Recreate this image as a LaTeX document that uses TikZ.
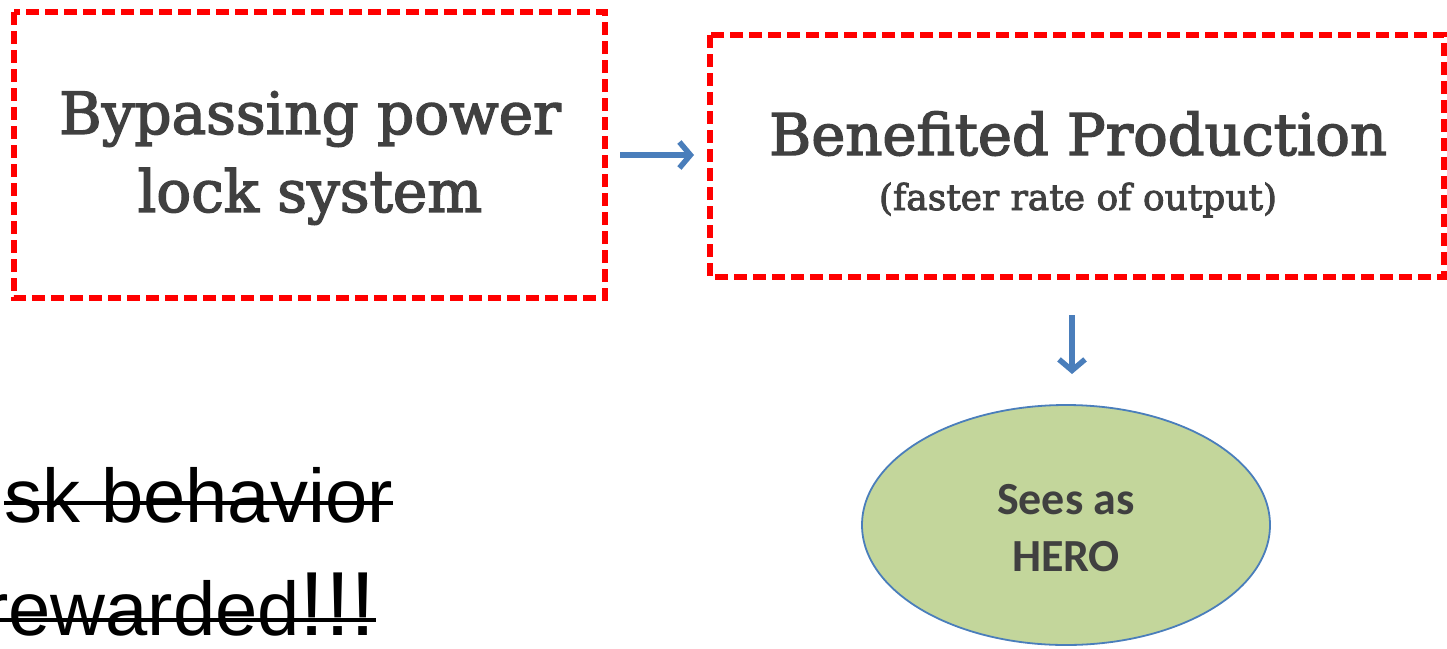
\documentclass[tikz,border=0pt]{standalone}
\usepackage{fontspec}
\setmainfont{DejaVu Serif}
\newfontfamily\slab[FakeBold=2.5]{DejaVu Serif}
\newfontfamily\heros{Liberation Sans}
\newfontfamily\carl{Carlito}
\usetikzlibrary{arrows.meta,shapes.geometric}
\definecolor{boxred}{HTML}{FF0000}
\definecolor{txtgray}{HTML}{404040}
\definecolor{arrblue}{HTML}{4A7EBB}
\definecolor{ellfill}{HTML}{C3D69B}
\tikzset{
  redbox/.style={draw=boxred, line width=5.5pt, dash pattern=on 13pt off 6pt},
  bigtxt/.style={text=txtgray, align=center, font=\slab\fontsize{58}{78}\selectfont},
  conn/.style={draw=arrblue, line width=5.5pt, -{Straight Barb[length=11pt,width=26pt,line width=5.5pt]}},
  striketxt/.style={font=\heros\fontsize{76}{76}\selectfont, text=black, inner sep=0pt},
  strike/.style={draw=black, line width=4pt}
}
\begin{document}
\begin{tikzpicture}[x=1pt,y=-1pt]
\useasboundingbox (0,0) rectangle (1447,648);
% boxes
\draw[redbox] (14,12) rectangle (605,298);
\draw[redbox] (710,35) rectangle (1444,277);
\node[bigtxt, anchor=center] (bp) at (310,158) {Bypassing power\\lock system};
\node[text=txtgray, align=center, anchor=base, font=\slab\fontsize{57.5}{60}\selectfont] (ben) at (1078,155) {Benefited Production};
\node[text=txtgray, anchor=base, font=\slab\fontsize{36}{40}\selectfont] (fast) at (1078,210) {(faster rate of output)};
\coordinate (a1s) at (620,155);
\coordinate (a1e) at (694,155);
\draw[conn] (a1s) -- (a1e);
\coordinate (a2s) at (1072,315);
\coordinate (a2e) at (1072,374);
\draw[conn] (a2s) -- (a2e);
\node[ellipse, draw=arrblue, line width=1.8pt, fill=ellfill, minimum width=408pt, minimum height=240pt] (hero) at (1066,525) {};
\node[text=txtgray, align=center, font=\carl\bfseries\fontsize{46}{57}\selectfont] (herot) at (1066,528) {Sees as\\HERO};
% struck text
\node[striketxt, anchor=base east] (l1) at (393,522) {sk behavior};
\node[striketxt, anchor=base east] (l2) at (376,635) {rewarded\fontsize{91}{91}\selectfont!!!};
\draw[strike] (l1.west |- 0,503) -- (393,503);
\draw[strike] (l2.west |- 0,620) -- (376,620);
\end{tikzpicture}
\end{document}
